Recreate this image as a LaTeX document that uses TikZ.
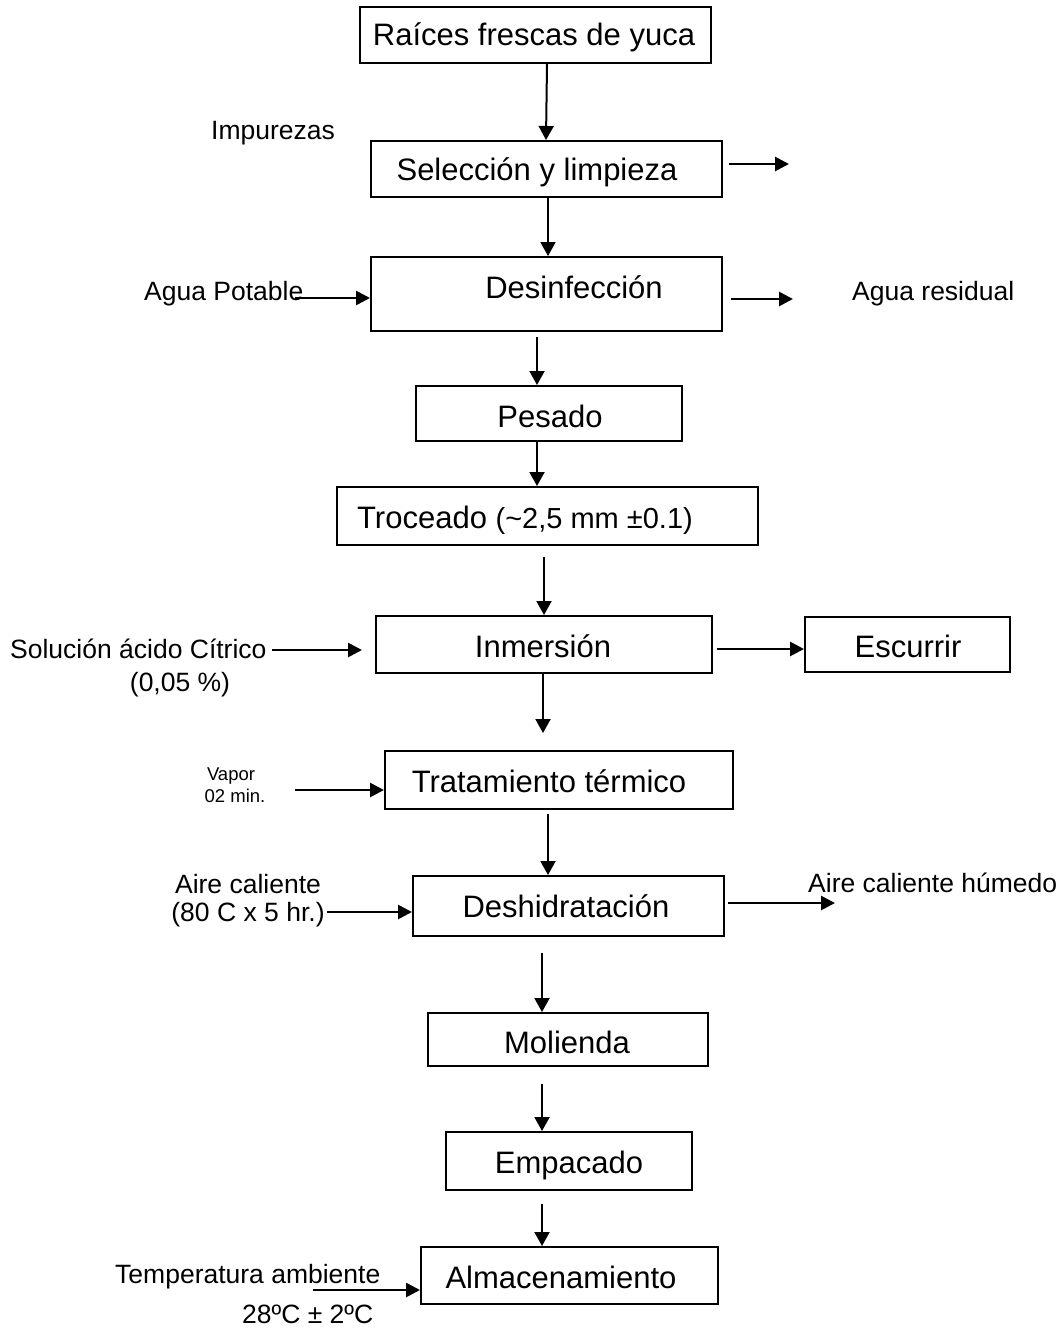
\documentclass[tikz,border=0pt]{standalone}
\usepackage{fontspec}
\setmainfont{Liberation Sans}
\usetikzlibrary{arrows.meta}
\begin{document}
\begin{tikzpicture}[x=1pt,y=-1pt,
  box/.style={draw, line width=2pt, inner sep=0pt},
  btxt/.style={inner sep=0pt, anchor=base, font=\fontsize{31}{36}\selectfont},
  stxt/.style={inner sep=0pt, font=\fontsize{26.5}{30}\selectfont},
  vtxt/.style={inner sep=0pt, anchor=base, font=\fontsize{18.5}{22}\selectfont},
  varr/.style={line width=2pt, -{Triangle[length=14pt,width=15pt]}},
  harr/.style={line width=2.7pt, -{Triangle[length=14pt,width=14pt]}}]
\useasboundingbox[fill=white] (0,0) rectangle (1061,1336);

% process boxes
\node[box, minimum width=351pt, minimum height=56pt] (b1) at (535.5,35) {};
\node[box, minimum width=351pt, minimum height=56pt] (b2) at (546.5,169) {};
\node[box, minimum width=351pt, minimum height=74pt] (b3) at (546.5,294) {};
\node[box, minimum width=266pt, minimum height=55pt] (b4) at (549,413.5) {};
\node[box, minimum width=421pt, minimum height=58pt] (b5) at (547.5,516) {};
\node[box, minimum width=336pt, minimum height=57pt] (b6) at (544,644.5) {};
\node[box, minimum width=205pt, minimum height=55pt] (be) at (907.5,644.5) {};
\node[box, minimum width=348pt, minimum height=58pt] (b7) at (559,780) {};
\node[box, minimum width=311pt, minimum height=60pt] (b8) at (568.5,906) {};
\node[box, minimum width=280pt, minimum height=53pt] (b9) at (568,1039.5) {};
\node[box, minimum width=246pt, minimum height=58pt] (b10) at (569,1161) {};
\node[box, minimum width=297pt, minimum height=57pt] (b11) at (569.5,1275.5) {};

% box texts
\node[btxt] (t1) at (534,45) {Raíces frescas de yuca};
\node[btxt] (t2) at (537,180) {Selección y limpieza};
\node[btxt] (t3) at (574,298) {Desinfección};
\node[btxt] (t4) at (550,427) {Pesado};
\node[btxt, anchor=base west] (t5) at (357,528) {Troceado {\fontsize{29}{34}\selectfont(\textasciitilde 2,5 mm ±0.1)}};
\node[btxt] (t6) at (543,657) {Inmersión};
\node[btxt] (te) at (908,657) {Escurrir};
\node[btxt] (t7) at (549,792) {Tratamiento térmico};
\node[btxt] (t8) at (566,917) {Deshidratación};
\node[btxt] (t9) at (567,1053) {Molienda};
\node[btxt] (t10) at (569,1173) {Empacado};
\node[btxt] (t11) at (561,1288) {Almacenamiento};

% side labels
\node[stxt, anchor=base west] (l1) at (211,139) {Impurezas};
\node[stxt, anchor=base west] (l2) at (144,300) {Agua Potable};
\node[stxt, anchor=base west] (l3) at (852,300) {Agua residual};
\node[stxt, anchor=base west] (l4) at (10,658) {Solución ácido Cítrico};
\node[stxt, anchor=base] (l5) at (180,691) {(0,05 \%)};
\node[vtxt] (l6) at (231,780) {Vapor};
\node[vtxt] (l7) at (235,802) {02 min.};
\node[stxt, anchor=base] (l8) at (248,893) {Aire caliente};
\node[stxt, anchor=base] (l9) at (248,921) {(80 C x 5 hr.)};
\node[stxt, anchor=base west] (l10) at (808,892) {Aire caliente húmedo};
\node[stxt, anchor=base west] (l11) at (115,1283) {Temperatura ambiente};
\node[stxt, anchor=base west] (l12) at (242,1323) {28ºC ± 2ºC};

% free ends
\coordinate (o2) at (789,164);
\coordinate (i3) at (295,298);
\coordinate (o3) at (793,299);
\coordinate (i6) at (272,650);
\coordinate (i7) at (295,790);
\coordinate (i8) at (327,912);
\coordinate (o8) at (835,903);
\coordinate (i11) at (313,1290);

% vertical flow arrows
\draw[varr] ([xshift=11.5pt]b1.south) -- ([xshift=-0.5pt]b2.north);
\draw[varr] ([xshift=1.5pt]b2.south) -- ([xshift=1.5pt]b3.north);
\draw[varr, shorten <=5pt] ([xshift=-9.5pt]b3.south) -- ([xshift=-12pt]b4.north);
\draw[varr] ([xshift=-12pt]b4.south) -- ([xshift=-10.5pt]b5.north);
\draw[varr, shorten <=11pt] ([xshift=-3.5pt]b5.south) -- (b6.north);
\draw[varr, shorten >=17pt] ([xshift=-1pt]b6.south) -- ([xshift=-16pt]b7.north);
\draw[varr, shorten <=4pt] ([xshift=-11pt]b7.south) -- ([xshift=-20.5pt]b8.north);
\draw[varr, shorten <=16pt] ([xshift=-26.5pt]b8.south) -- ([xshift=-26pt]b9.north);
\draw[varr, shorten <=17pt] ([xshift=-26pt]b9.south) -- ([xshift=-27pt]b10.north);
\draw[varr, shorten <=13pt] ([xshift=-27pt]b10.south) -- ([xshift=-27.5pt]b11.north);

% horizontal arrows
\draw[harr, shorten <=6pt] ([yshift=5pt]b2.east) -- (o2);
\draw[harr] (i3) -- ([yshift=-4pt]b3.west);
\draw[harr, shorten <=8pt] ([yshift=-5pt]b3.east) -- (o3);
\draw[harr, shorten >=13pt] (i6) -- ([yshift=-5.5pt]b6.west);
\draw[harr, shorten <=4pt] ([yshift=-4.5pt]b6.east) -- ([yshift=-4.5pt]be.west);
\draw[harr] (i7) -- ([yshift=-10pt]b7.west);
\draw[harr] (i8) -- ([yshift=-6pt]b8.west);
\draw[harr, shorten <=3pt] ([yshift=3pt]b8.east) -- (o8);
\draw[harr] (i11) -- ([yshift=-14.5pt]b11.west);
\end{tikzpicture}
\end{document}
